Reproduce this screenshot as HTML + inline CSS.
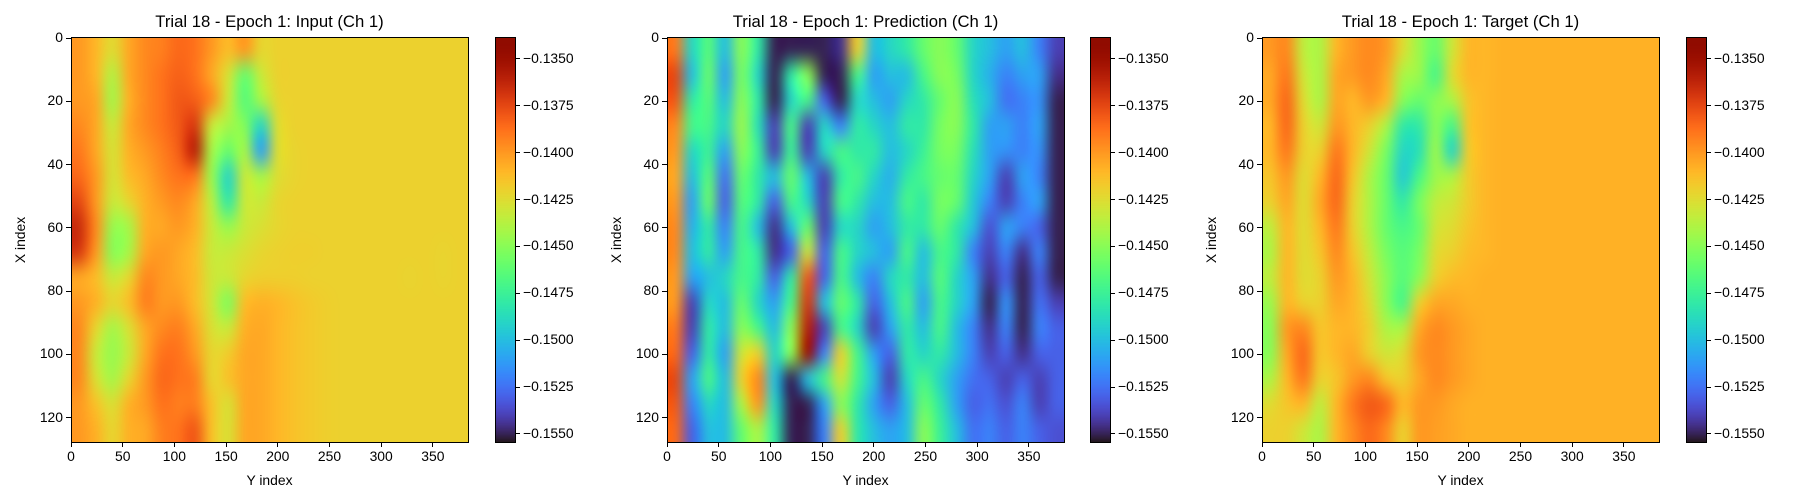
<!DOCTYPE html>
<html><head><meta charset="utf-8">
<style>
body{margin:0;background:#fff;width:1800px;height:500px;overflow:hidden;font-family:"Liberation Sans",sans-serif;}
#root{position:relative;width:1800px;height:500px;}
canvas{position:absolute;}
.t{position:absolute;font-size:13.9px;color:#000;white-space:nowrap;line-height:1;}
.title{position:absolute;font-size:16.7px;white-space:nowrap;line-height:1;transform:translateX(-50%);}
.tick{position:absolute;background:#000;}
.frame{position:absolute;border:1px solid #000;box-sizing:border-box;}
</style></head>
<body><div id="root"></div>
<script>
// colour scale limits
const vmin = -0.15543, vmax = -0.13383;
// data values in units of -1e-4 (e.g. 1400 => -0.1400); 16 rows (X) x 24 cols (Y)
const inputVals = [
[1400,1410,1425,1405,1395,1392,1385,1388,1400,1412,1400,1422,1420,1420,1420,1420,1420,1420,1420,1420,1420,1420,1420,1420],
[1400,1410,1438,1405,1395,1388,1383,1388,1405,1428,1460,1432,1420,1420,1420,1420,1420,1420,1420,1420,1420,1420,1420,1420],
[1400,1405,1442,1408,1395,1388,1380,1382,1395,1432,1465,1442,1422,1420,1420,1420,1420,1420,1420,1420,1420,1420,1420,1420],
[1395,1405,1432,1405,1395,1388,1380,1370,1432,1442,1452,1490,1426,1420,1420,1420,1420,1420,1420,1420,1420,1420,1420,1420],
[1390,1405,1428,1408,1400,1392,1382,1360,1442,1460,1442,1510,1426,1421,1420,1420,1420,1420,1420,1420,1420,1420,1420,1420],
[1385,1400,1428,1412,1405,1395,1388,1390,1446,1490,1432,1442,1426,1421,1420,1420,1420,1420,1420,1420,1420,1420,1420,1420],
[1375,1400,1432,1422,1408,1400,1395,1405,1437,1480,1432,1432,1422,1420,1420,1420,1420,1420,1420,1420,1420,1420,1420,1420],
[1365,1395,1446,1442,1408,1405,1400,1408,1432,1446,1432,1427,1422,1420,1420,1420,1420,1420,1420,1420,1420,1420,1420,1420],
[1370,1400,1450,1442,1405,1400,1405,1412,1432,1432,1427,1422,1420,1419,1419,1420,1420,1420,1420,1420,1420,1420,1421,1420],
[1405,1412,1432,1422,1395,1400,1405,1412,1430,1432,1422,1419,1419,1419,1420,1420,1420,1420,1420,1420,1421,1420,1421,1420],
[1400,1408,1422,1412,1392,1400,1400,1412,1430,1452,1412,1408,1410,1414,1417,1419,1420,1420,1420,1420,1420,1420,1420,1420],
[1395,1422,1442,1427,1405,1395,1392,1405,1427,1432,1408,1405,1410,1414,1417,1419,1420,1420,1420,1420,1420,1420,1420,1420],
[1395,1432,1446,1432,1405,1388,1388,1400,1422,1418,1405,1405,1410,1414,1417,1419,1420,1420,1420,1420,1420,1420,1420,1420],
[1395,1427,1442,1422,1400,1385,1388,1392,1422,1414,1405,1405,1410,1414,1417,1419,1420,1420,1420,1420,1420,1420,1420,1420],
[1400,1414,1427,1408,1400,1388,1392,1392,1414,1427,1405,1405,1410,1414,1417,1419,1420,1420,1420,1420,1420,1420,1420,1420],
[1400,1408,1422,1408,1405,1392,1388,1380,1414,1427,1405,1405,1410,1414,1417,1419,1420,1420,1420,1420,1420,1420,1420,1420]];
const predVals = [
[1390,1490,1465,1500,1450,1480,1550,1550,1550,1550,1545,1420,1500,1490,1480,1460,1450,1460,1490,1500,1510,1500,1520,1540],
[1375,1500,1460,1510,1455,1490,1550,1480,1450,1550,1550,1470,1510,1500,1500,1470,1450,1455,1490,1505,1520,1510,1510,1545],
[1380,1480,1465,1500,1450,1480,1550,1490,1470,1530,1550,1490,1500,1510,1490,1480,1460,1450,1485,1500,1525,1520,1515,1550],
[1395,1470,1470,1490,1445,1485,1540,1470,1540,1490,1520,1480,1490,1500,1480,1480,1455,1450,1480,1510,1510,1520,1510,1550],
[1400,1490,1475,1510,1450,1475,1540,1475,1540,1490,1470,1480,1480,1500,1490,1475,1455,1455,1485,1510,1515,1520,1515,1550],
[1405,1500,1465,1525,1460,1480,1500,1460,1500,1540,1480,1470,1490,1505,1480,1470,1460,1460,1490,1510,1540,1510,1520,1550],
[1400,1510,1460,1530,1465,1480,1530,1470,1490,1540,1470,1480,1500,1500,1470,1480,1455,1460,1495,1520,1540,1520,1510,1550],
[1395,1505,1480,1520,1470,1500,1545,1500,1460,1540,1490,1490,1510,1500,1480,1480,1460,1480,1500,1535,1510,1520,1530,1550],
[1395,1500,1480,1510,1470,1480,1545,1530,1430,1530,1470,1490,1500,1510,1470,1500,1470,1480,1520,1540,1520,1545,1520,1550],
[1400,1510,1500,1490,1470,1480,1530,1480,1380,1530,1470,1500,1520,1490,1480,1500,1465,1490,1510,1545,1530,1550,1530,1550],
[1400,1540,1490,1500,1460,1490,1510,1470,1370,1500,1460,1480,1530,1500,1470,1510,1470,1490,1510,1550,1515,1550,1525,1540],
[1390,1540,1480,1500,1450,1470,1500,1450,1360,1540,1470,1490,1540,1510,1480,1500,1470,1500,1520,1545,1520,1550,1520,1530],
[1385,1530,1480,1510,1430,1420,1490,1450,1350,1520,1420,1470,1510,1530,1480,1490,1480,1500,1520,1540,1530,1545,1530,1530],
[1375,1510,1470,1500,1420,1395,1500,1550,1500,1470,1430,1470,1500,1540,1490,1470,1490,1510,1525,1530,1540,1530,1540,1530],
[1380,1520,1490,1500,1440,1400,1490,1550,1550,1510,1450,1480,1510,1530,1500,1460,1480,1510,1530,1525,1535,1520,1540,1530],
[1385,1530,1500,1500,1460,1440,1480,1550,1550,1520,1420,1480,1500,1510,1500,1450,1475,1500,1525,1520,1530,1520,1530,1535]];
const targetVals = [
[1400,1395,1435,1440,1410,1400,1395,1400,1425,1445,1460,1430,1410,1410,1408,1408,1408,1408,1408,1408,1408,1408,1408,1408],
[1405,1390,1430,1440,1405,1400,1395,1405,1440,1445,1470,1425,1410,1410,1408,1408,1408,1408,1408,1408,1408,1408,1408,1408],
[1405,1385,1425,1440,1405,1410,1400,1410,1450,1460,1450,1440,1415,1410,1408,1408,1408,1408,1408,1408,1408,1408,1408,1408],
[1410,1385,1420,1430,1400,1410,1420,1440,1480,1480,1450,1470,1415,1410,1408,1408,1408,1408,1408,1408,1408,1408,1408,1408],
[1410,1390,1420,1420,1390,1410,1430,1455,1490,1485,1445,1490,1418,1410,1408,1408,1408,1408,1408,1408,1408,1408,1408,1408],
[1415,1400,1425,1410,1385,1415,1440,1460,1495,1470,1445,1440,1418,1410,1408,1408,1408,1408,1408,1408,1408,1408,1408,1408],
[1420,1405,1425,1405,1385,1420,1440,1460,1480,1455,1435,1430,1418,1410,1408,1408,1408,1408,1408,1408,1408,1408,1408,1408],
[1435,1410,1425,1410,1390,1420,1440,1460,1470,1460,1430,1425,1415,1410,1408,1408,1408,1408,1408,1408,1408,1408,1408,1408],
[1440,1410,1425,1415,1395,1415,1435,1455,1465,1455,1425,1420,1412,1410,1408,1408,1408,1408,1408,1408,1408,1408,1408,1408],
[1435,1410,1425,1420,1400,1410,1430,1450,1465,1450,1420,1412,1410,1408,1408,1408,1408,1408,1408,1408,1408,1408,1408,1408],
[1445,1410,1420,1420,1405,1410,1425,1450,1470,1420,1405,1405,1408,1408,1408,1408,1408,1408,1408,1408,1408,1408,1408,1408],
[1450,1400,1395,1415,1410,1410,1420,1440,1440,1405,1395,1400,1405,1408,1408,1408,1408,1408,1408,1408,1408,1408,1408,1408],
[1450,1405,1385,1415,1410,1405,1420,1430,1425,1400,1395,1400,1405,1408,1408,1408,1408,1408,1408,1408,1408,1408,1408,1408],
[1440,1410,1390,1420,1415,1400,1395,1415,1420,1405,1395,1400,1405,1408,1408,1408,1408,1408,1408,1408,1408,1408,1408,1408],
[1425,1415,1410,1435,1410,1390,1380,1385,1410,1400,1400,1405,1408,1408,1408,1408,1408,1408,1408,1408,1408,1408,1408,1408],
[1420,1420,1430,1440,1410,1395,1385,1395,1420,1400,1402,1405,1408,1408,1408,1408,1408,1408,1408,1408,1408,1408,1408,1408]];
const titles = ["Trial 18 - Epoch 1: Input (Ch 1)","Trial 18 - Epoch 1: Prediction (Ch 1)","Trial 18 - Epoch 1: Target (Ch 1)"];
const yTicks = [0,50,100,150,200,250,300,350];
const xTicks = [0,20,40,60,80,100,120];
const cbTicks = [-0.1350,-0.1375,-0.1400,-0.1425,-0.1450,-0.1475,-0.1500,-0.1525,-0.1550];

function turbo(t){t=Math.max(0,Math.min(1,t));
 const r=0.13572138+t*(4.61539260+t*(-42.66032258+t*(132.13108234+t*(-152.94239396+t*59.28637943))));
 const g=0.09140261+t*(2.19418839+t*(4.84296658+t*(-14.18503333+t*(4.27729857+t*2.82956604))));
 const b=0.10667330+t*(12.64194608+t*(-60.58204836+t*(110.36276771+t*(-89.90310912+t*27.34824973))));
 const c=v=>Math.round(255*Math.max(0,Math.min(1,v)));
 return `rgb(${c(r)},${c(g)},${c(b)})`;}
const root=document.getElementById('root');
function add(tag,cls,css,name,text){const e=document.createElement(tag);if(cls)e.className=cls;e.style.cssText=css;
 
 
 if(text!==undefined)e.textContent=text;root.appendChild(e);return e;}
const AX_W=397, AX_T=37, AX_H=405, CB_W=20;
const panels=[{ax:71,cb:495,data:inputVals,key:'input'},{ax:667,cb:1090,data:predVals,key:'prediction'},{ax:1262,cb:1686,data:targetVals,key:'target'}];
const NY=384, NX=128;
function sx(y,left){return left+(y+0.5)/NY*AX_W;}
function sy(x){return AX_T+(x+0.5)/NX*AX_H;}
function cbY(v){return AX_T+(vmax-v)/(vmax-vmin)*AX_H;}
function fmt(v){return '\u2212'+Math.abs(v).toFixed(4);}
panels.forEach((p,i)=>{
 const rows=p.data.length, cols=p.data[0].length;
 const off=document.createElement('canvas');off.width=cols;off.height=rows;
 const oc=off.getContext('2d');
 p.data.forEach((row,r)=>row.forEach((v,c)=>{oc.fillStyle=turbo((-v/1e4-vmin)/(vmax-vmin));oc.fillRect(c,r,1,1);}));
 const cv=add('canvas','',`left:${p.ax}px;top:${AX_T}px;width:${AX_W}px;height:${AX_H}px;`,p.key+'-heatmap');
 cv.width=AX_W;cv.height=AX_H;const ctx=cv.getContext('2d');ctx.imageSmoothingEnabled=true;ctx.imageSmoothingQuality='high';
 ctx.drawImage(off,0,0,cols,rows,0,0,AX_W,AX_H);
 add('div','frame',`left:${p.ax-0.5}px;top:${AX_T-0.5}px;width:${AX_W+1}px;height:${AX_H+1}px;`,p.key+'-axes-frame');
 add('div','title',`left:${p.ax+AX_W/2}px;top:14px;`,p.key+'-title',titles[i]);
 yTicks.forEach(t=>{const x=sx(t,p.ax)-0.5;
  add('div','tick',`left:${x-0.5}px;top:${AX_T+AX_H}px;width:1px;height:5px;`,'y-tick');
  add('div','t',`left:${x}px;top:${AX_T+AX_H+8}px;transform:translateX(-50%);`,'y-tick-label',String(t));});
 xTicks.forEach(t=>{const y=sy(t)-0.5;
  add('div','tick',`left:${p.ax-5}px;top:${y-0.5}px;width:5px;height:1px;`,'x-tick');
  add('div','t',`left:${p.ax-8}px;top:${y-7}px;transform:translateX(-100%);`,'x-tick-label',String(t));});
 add('div','t',`left:${p.ax+AX_W/2}px;top:474px;transform:translateX(-50%);`,'y-axis-title','Y index');
 add('div','t',`left:${p.ax-50}px;top:${AX_T+AX_H/2-7}px;transform:translateX(-50%) rotate(-90deg);`,'x-axis-title','X index');
 const cb=add('canvas','',`left:${p.cb}px;top:${AX_T}px;width:${CB_W}px;height:${AX_H}px;`,p.key+'-colorbar');
 cb.width=CB_W;cb.height=AX_H;const c2=cb.getContext('2d');
 for(let k=0;k<AX_H;k++){c2.fillStyle=turbo(1-(k+0.5)/AX_H);c2.fillRect(0,k,CB_W,1);}
 add('div','frame',`left:${p.cb-0.5}px;top:${AX_T-0.5}px;width:${CB_W+1}px;height:${AX_H+1}px;`,p.key+'-colorbar-frame');
 cbTicks.forEach(v=>{const y=cbY(v);
  add('div','tick',`left:${p.cb+CB_W}px;top:${y-0.5}px;width:5px;height:1px;`,'colorbar-tick');
  add('div','t',`left:${p.cb+CB_W+8}px;top:${y-7}px;`,'colorbar-tick-label',fmt(v));});
});
</script></body></html>
